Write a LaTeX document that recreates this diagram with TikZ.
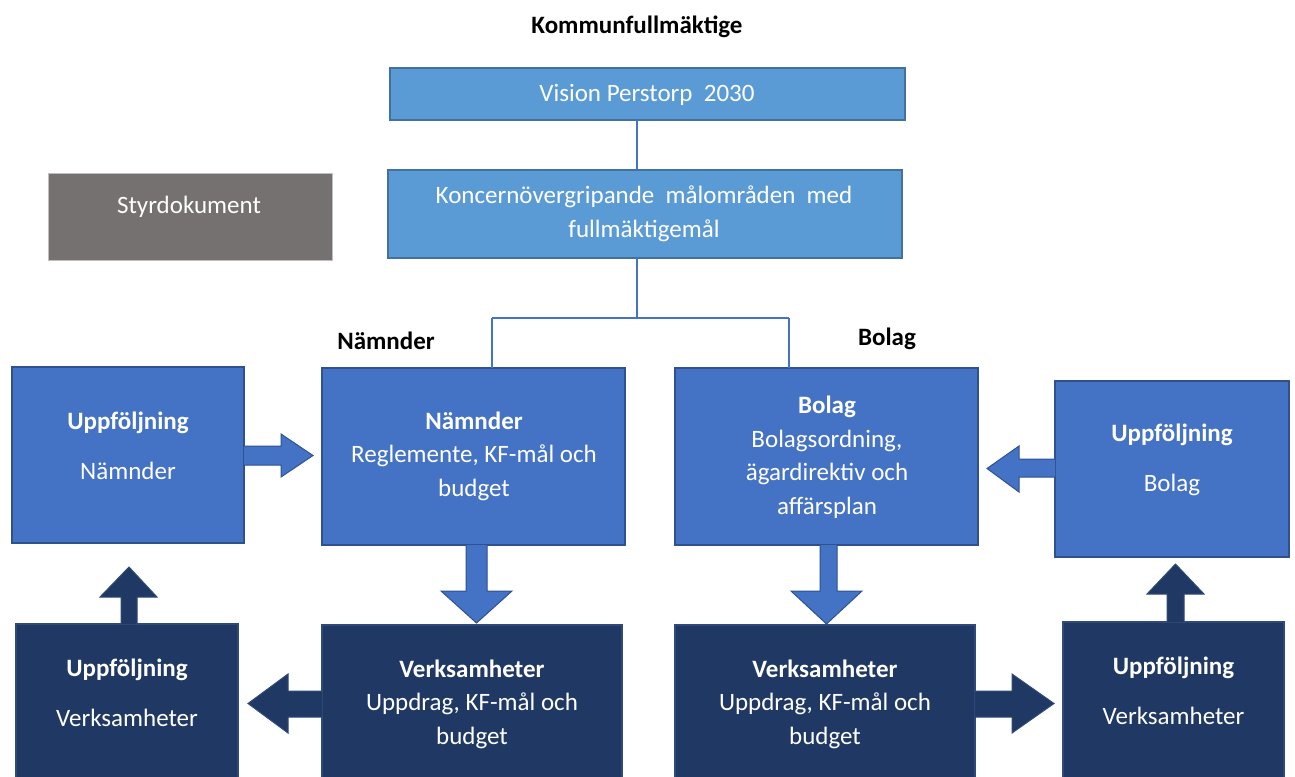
\documentclass[tikz,border=0pt]{standalone}
\usepackage{fontspec}
\setmainfont{Carlito}
\usetikzlibrary{positioning}
\definecolor{topfill}{HTML}{5B9BD5}
\definecolor{topline}{HTML}{41719C}
\definecolor{midfill}{HTML}{4472C4}
\definecolor{midline}{HTML}{2F528F}
\definecolor{darkfill}{HTML}{203864}
\definecolor{darkline}{HTML}{2F4A7A}
\definecolor{grayfill}{HTML}{767171}
\definecolor{grayline}{HTML}{BFBFBF}
\tikzset{
  boxbase/.style={rectangle, inner sep=0pt, outer sep=0pt, line width=1.3pt},
  topbox/.style={boxbase, fill=topfill, draw=topline},
  midbox/.style={boxbase, fill=midfill, draw=midline},
  darkbox/.style={boxbase, fill=darkfill, draw=darkline},
  graybox/.style={boxbase, fill=grayfill, draw=grayline, line width=0.8pt},
  boxtext/.style={text=white, align=center, font=\fontsize{25}{33.5}\selectfont, inner sep=0pt},
  headlabel/.style={text=black, font=\fontsize{25}{28}\selectfont\bfseries, inner sep=0pt},
  link/.style={draw=midfill, line width=1.6pt},
  lightarrow/.style={fill=midfill, draw=midline, line width=1pt, line join=miter},
  darkarrow/.style={fill=darkfill, draw=darkline, line width=1pt, line join=miter}
}
\begin{document}
\begin{tikzpicture}[x=1pt, y=-1pt]
\useasboundingbox (0,0) rectangle (1295,776);
\clip (0,0) rectangle (1295,776);
\fill[white] (0,0) rectangle (1295,776);

% headings
\node[headlabel] (kf) at (637,27) {Kommunfullmäktige};
\node[headlabel] (lblN) at (386,341) {Nämnder};
\node[headlabel] (lblB) at (887,339) {Bolag};

% top boxes
\node[topbox, minimum width=515pt, minimum height=52pt] (vision) at (647.5,94) {};
\node[boxtext] (visiont) at (647,95) {Vision Perstorp\ \ 2030};
\node[topbox, minimum width=514pt, minimum height=88pt] (koncern) at (645,214) {};
\node[boxtext] (koncernt) at (644,214) {Koncernövergripande\ \ målområden\ \ med\\fullmäktigemål};

% styrdokument
\node[graybox, minimum width=284pt, minimum height=87pt] (styr) at (190.5,217) {};
\node[boxtext] (styrt) at (189,207) {Styrdokument};

% mid boxes
\node[midbox, minimum width=232pt, minimum height=176pt] (uppN) at (128,455) {};
\node[boxtext] (uppNt) at (128,446) {\textbf{Uppföljning}\\[17pt]Nämnder};
\node[midbox, minimum width=303pt, minimum height=177pt] (namnd) at (473.5,456.5) {};
\node[boxtext] (namndt) at (474,456) {\textbf{Nämnder}\\Reglemente, KF-mål och\\budget};
\node[midbox, minimum width=303pt, minimum height=177pt] (bolag) at (826.5,456.5) {};
\node[boxtext] (bolagt) at (827,457) {\textbf{Bolag}\\Bolagsordning,\\ägardirektiv och\\affärsplan};
\node[midbox, minimum width=234pt, minimum height=176pt] (uppB) at (1172,469) {};
\node[boxtext] (uppBt) at (1172,460) {\textbf{Uppföljning}\\[17pt]Bolag};

% dark boxes (cut by the lower edge)
\node[darkbox, minimum width=222pt, minimum height=200pt] (uppV1) at (127,724) {};
\node[boxtext] (uppV1t) at (127,693) {\textbf{Uppföljning}\\[17pt]Verksamheter};
\node[darkbox, minimum width=300pt, minimum height=200pt] (verk1) at (472,725) {};
\node[boxtext] (verk1t) at (472,704) {\textbf{Verksamheter}\\Uppdrag, KF-mål och\\budget};
\node[darkbox, minimum width=300pt, minimum height=200pt] (verk2) at (825,725) {};
\node[boxtext] (verk2t) at (825,704) {\textbf{Verksamheter}\\Uppdrag, KF-mål och\\budget};
\node[darkbox, minimum width=221pt, minimum height=200pt] (uppV2) at (1173.5,722) {};
\node[boxtext] (uppV2t) at (1173.5,691) {\textbf{Uppföljning}\\[17pt]Verksamheter};

% connectors
\coordinate (split) at (637,318);
\draw[link] (vision.south -| split) -- (koncern.north -| split);
\draw[link] (koncern.south -| split) -- (split);
\draw[link] (492,318) -- (789,318);
\draw[link] (492,318) -- (namnd.north -| 492,0);
\draw[link] (789,318) -- (bolag.north -| 789,0);

% block arrows
% Uppföljning Nämnder -> Nämnder
\draw[lightarrow] (244,446) -- (281,446) -- (281,434) -- (313,455.5) -- (281,477) -- (281,465) -- (244,465);
% Nämnder -> Verksamheter
\draw[lightarrow] (466,545) -- (466,591) -- (441,591) -- (476.5,623) -- (512,591) -- (487,591) -- (487,545);
% Verksamheter -> Uppföljning Verksamheter (left)
\draw[darkarrow] (322,691) -- (288,691) -- (288,674) -- (248,703.5) -- (288,733) -- (288,717) -- (322,717);
% Uppföljning Verksamheter -> Uppföljning Nämnder
\draw[darkarrow] (121,624) -- (121,597) -- (100,597) -- (129,567) -- (157,597) -- (137,597) -- (137,624);
% Uppföljning Bolag -> Bolag
\draw[lightarrow] (1055,459) -- (1019,459) -- (1019,446) -- (987,468.5) -- (1019,492) -- (1019,477) -- (1055,477);
% Bolag -> Verksamheter
\draw[lightarrow] (820,545) -- (820,591) -- (791,591) -- (826.5,624) -- (862,591) -- (837,591) -- (837,545);
% Verksamheter -> Uppföljning Verksamheter (right)
\draw[darkarrow] (975,691) -- (1012,691) -- (1012,674) -- (1054,703.5) -- (1012,733) -- (1012,717) -- (975,717);
% Uppföljning Verksamheter -> Uppföljning Bolag
\draw[darkarrow] (1167,622) -- (1167,594) -- (1147,594) -- (1175.5,564) -- (1204,594) -- (1184,594) -- (1184,622);
\end{tikzpicture}
\end{document}
